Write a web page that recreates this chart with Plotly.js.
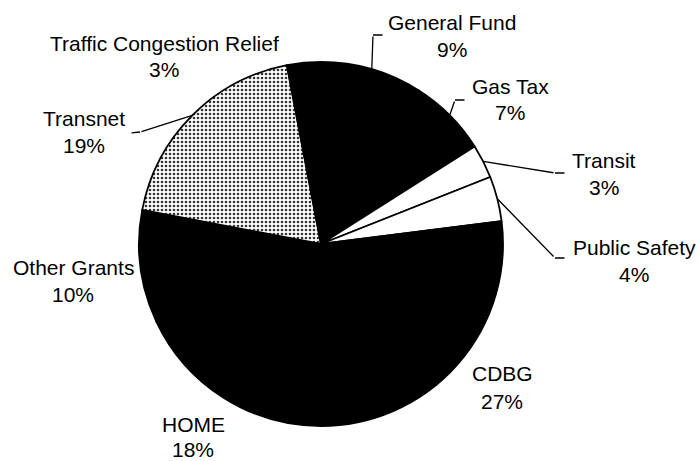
<!DOCTYPE html>
<html>
<head>
<meta charset="utf-8">
<script src="https://cdn.plot.ly/plotly-3.0.1.min.js"></script>
<style>html,body{margin:0;padding:0;background:#fff;}#chart{width:699px;height:461px;}</style>
</head>
<body>
<div id="chart"></div>
<script>
// ---- data ----
const labels = ['General Fund', 'Gas Tax', 'Transit', 'Public Safety', 'CDBG', 'HOME', 'Other Grants', 'Transnet', 'Traffic Congestion Relief'];
const values = [9, 7, 3, 4, 27, 18, 10, 19, 3];
const pctText = ['9%', '7%', '3%', '4%', '27%', '18%', '10%', '19%', '3%'];

// ---- style / layout ----
const W = 699, H = 461;
const CX = 321, CY = 244, R = 182;
const sliceColors = ['#000', '#000', '#fff', '#fff', '#000', '#000', '#000', '#eeeeee', '#000'];
const patternShapes = ['', '', '', '', '', '', '', '.', ''];
// label centre positions (px): [nameX, nameY, pctX, pctY]
const labelPos = {
  'General Fund': [452, 22, 452, 49],
  'Gas Tax': [510, 87, 510, 113],
  'Transit': [604, 160, 604, 187],
  'Public Safety': [634, 247, 634, 274],
  'CDBG': [502, 373, 502, 401],
  'HOME': [193, 424, 193, 449],
  'Other Grants': [73, 267, 73, 294],
  'Transnet': [84, 118, 84, 146],
  'Traffic Congestion Relief': [164, 43, 164, 69]
};
// leader elbows and ends (px)
const leaders = {
  'General Fund': [[373, 35], [384, 35]],
  'Gas Tax': [[455, 100], [466, 100]],
  'Transit': [[555, 173], [566, 173]],
  'Public Safety': [[555, 258], [566, 258]],
  'Transnet': [[140, 132], [130, 133]]
};

const px2x = p => p / W;
const py2y = p => 1 - p / H;

const total = values.reduce((a, b) => a + b, 0);
const annotations = [];
let cum = 0;
const font = {family: 'Liberation Sans, Arial, sans-serif', size: 21, color: '#000'};
labels.forEach((lab, i) => {
  const mid = (cum + values[i] / 2) / total;
  cum += values[i];
  const ang = mid * 2 * Math.PI; // clockwise from 12 o'clock
  const ax0 = CX + R * Math.sin(ang);
  const ay0 = CY - R * Math.cos(ang);
  const p = labelPos[lab];
  annotations.push({xref: 'paper', yref: 'paper', x: px2x(p[0]), y: py2y(p[1]), text: lab, showarrow: false, font: font, xanchor: 'center', yanchor: 'middle'});
  annotations.push({xref: 'paper', yref: 'paper', x: px2x(p[2]), y: py2y(p[3]), text: pctText[i], showarrow: false, font: font, xanchor: 'center', yanchor: 'middle'});
  if (leaders[lab]) {
    const [e, f] = leaders[lab];
    annotations.push({xref: 'paper', yref: 'paper', x: px2x(ax0), y: py2y(ay0), ax: e[0] - ax0, ay: e[1] - ay0, text: '', showarrow: true, arrowhead: 0, arrowwidth: 1.3, arrowcolor: '#000', standoff: 0, startstandoff: 0});
    annotations.push({xref: 'paper', yref: 'paper', x: px2x(e[0]), y: py2y(e[1]), ax: f[0] - e[0], ay: f[1] - e[1], text: '', showarrow: true, arrowhead: 0, arrowwidth: 1.3, arrowcolor: '#000', standoff: 0, startstandoff: 0});
  }
});

const trace = {
  type: 'pie',
  labels: labels,
  values: values,
  sort: false,
  direction: 'clockwise',
  rotation: 0,
  textinfo: 'none',
  hoverinfo: 'label+percent',
  domain: {x: [px2x(CX - R), px2x(CX + R)], y: [py2y(CY + R), py2y(CY - R)]},
  marker: {
    colors: sliceColors,
    line: {color: '#000', width: 1.8},
    pattern: {shape: patternShapes, fgcolor: '#333', size: 4, solidity: 0.35}
  }
};

const layout = {
  width: W, height: H,
  margin: {l: 0, r: 0, t: 0, b: 0},
  showlegend: false,
  paper_bgcolor: '#fff',
  annotations: annotations
};

Plotly.newPlot('chart', [trace], layout, {displayModeBar: false, staticPlot: true});
</script>
</body>
</html>
